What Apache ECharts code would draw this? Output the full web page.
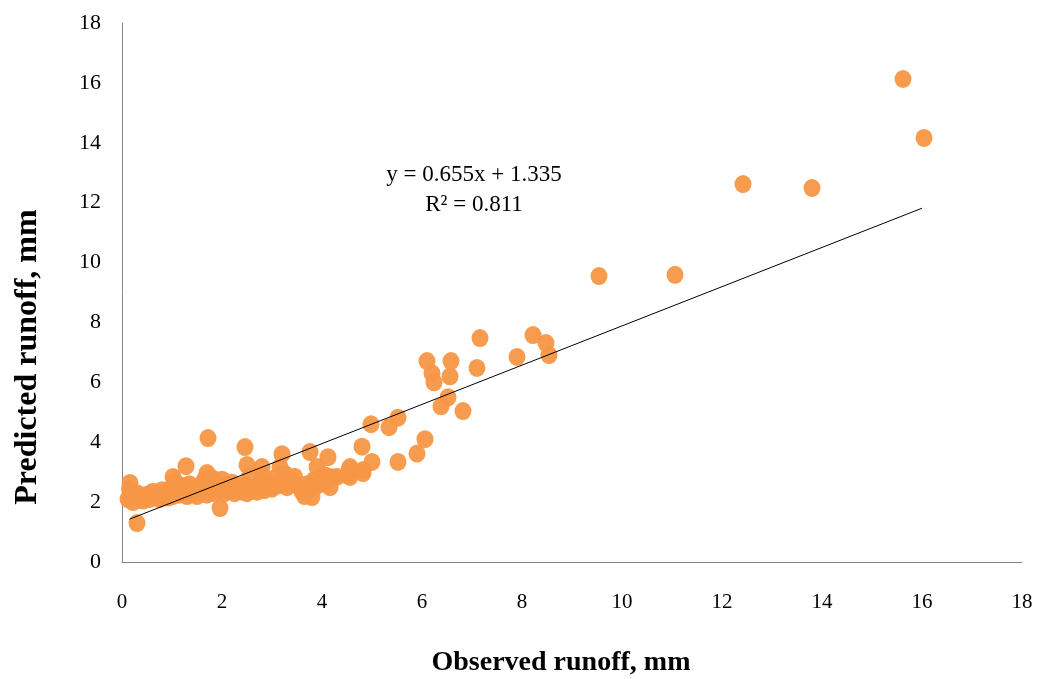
<!DOCTYPE html>
<html>
<head>
<meta charset="utf-8">
<script src="https://cdn.jsdelivr.net/npm/echarts@6/dist/echarts.min.js"></script>
<style>html,body{margin:0;padding:0;background:#fff}#c{width:1041px;height:679px}</style>
</head>
<body>
<div id="c"></div>
<script>
const xTicks = [0, 2, 4, 6, 8, 10, 12, 14, 16, 18];
const yTicks = [0, 2, 4, 6, 8, 10, 12, 14, 16, 18];
const observed = [
  0.12,0.15,0.18,0.22,0.3,0.35,0.42,0.5,0.55,0.62,0.7,0.75,0.8,0.88,0.92,1.0,1.02,1.05,1.1,1.15,
  1.2,1.25,1.3,1.35,1.4,1.45,1.5,1.55,1.6,1.65,1.7,1.75,1.8,1.85,1.9,1.95,2.0,2.05,2.1,2.15,
  2.2,2.25,2.3,2.4,2.45,2.5,2.55,2.6,2.7,2.75,2.8,2.85,2.9,2.95,3.0,3.05,3.1,3.2,3.25,3.3,
  3.4,3.45,3.55,3.6,3.65,3.7,3.75,3.85,3.9,4.0,4.05,4.1,4.2,4.3,4.5,4.55,
  0.16,0.3,1.02,1.28,1.72,1.7,1.96,2.46,2.5,2.8,3.16,3.2,3.76,4.12,3.9,4.16,3.96,3.76,4.16,4.56,
  3.8,4.56,4.82,4.82,4.8,5.0,5.52,5.9,6.06,4.98,5.34,5.52,
  6.1,6.58,6.2,6.24,6.56,6.52,6.38,6.82,7.1,7.16,7.9,8.22,8.48,8.54,9.54,11.06,12.42,13.8,15.62,16.04
];
const predicted = [
  2.1,2.45,2.2,2.0,2.3,2.15,2.05,2.25,2.1,2.35,2.2,2.1,2.4,2.3,2.15,2.5,2.2,2.7,2.35,2.25,
  2.55,2.4,2.2,2.6,2.3,2.45,2.2,2.55,2.35,2.75,2.25,2.5,2.8,2.3,2.6,2.45,2.75,2.3,2.55,2.4,
  2.65,2.3,2.5,2.35,2.6,2.3,2.85,2.45,2.35,2.6,2.9,2.4,2.7,2.5,2.45,2.8,2.55,2.6,2.95,2.5,
  2.7,2.85,2.5,2.35,2.2,2.6,2.45,2.75,2.55,2.65,2.9,2.7,2.8,2.85,2.9,3.1,
  2.64,1.3,2.84,3.2,4.14,2.97,1.8,3.84,3.24,3.17,3.17,3.6,3.67,3.5,3.17,2.84,2.64,2.5,2.5,2.84,
  2.17,3.17,3.07,2.97,3.85,3.34,3.34,3.62,4.1,4.6,4.5,4.82,
  6.71,6.71,6.3,6.0,6.2,5.5,5.2,5.04,6.48,7.48,6.85,7.58,7.31,6.91,9.55,9.59,12.62,12.49,16.13,14.16
];
const trendX = [0.15, 16];
const trendY = [1.43, 11.815];
const equationLines = ['y = 0.655x + 1.335', 'R\u00b2 = 0.811'];

const points = observed.map((x, i) => [x, predicted[i]]);
const trend = trendX.map((x, i) => [x, trendY[i]]);

const chart = echarts.init(document.getElementById('c'));
const serif = '"Liberation Serif", "Times New Roman", serif';
chart.setOption({
  animation: false,
  backgroundColor: '#fff',
  grid: { left: 122, right: 19, top: 23, bottom: 117 },
  xAxis: {
    type: 'value', min: xTicks[0], max: xTicks[xTicks.length - 1], interval: 2,
    axisLine: { show: true, lineStyle: { color: '#868686', width: 1 } },
    axisTick: { show: false },
    splitLine: { show: false },
    axisLabel: { color: '#000', fontFamily: serif, fontSize: 21, margin: 30 }
  },
  yAxis: {
    type: 'value', min: yTicks[0], max: yTicks[yTicks.length - 1], interval: 2,
    axisLine: { show: true, lineStyle: { color: '#868686', width: 1 } },
    axisTick: { show: false },
    splitLine: { show: false },
    axisLabel: { color: '#000', fontFamily: serif, fontSize: 22, margin: 21 }
  },
  series: [
    {
      type: 'scatter', data: points, symbol: 'circle', symbolSize: [17, 18],
      itemStyle: { color: '#F79646', opacity: 0.95 }, z: 2
    },
    {
      type: 'line', data: trend, symbol: 'none', showSymbol: false,
      lineStyle: { color: '#000', width: 1 }, z: 3
    }
  ],
  graphic: [
    { type: 'text', x: 474, y: 175, style: { text: equationLines[0], font: '23px ' + serif, fill: '#000', align: 'center', verticalAlign: 'middle' } },
    { type: 'text', x: 474, y: 205, style: { text: equationLines[1], font: '23px ' + serif, fill: '#000', align: 'center', verticalAlign: 'middle' } },
    { type: 'text', x: 561, y: 663, style: { text: 'Observed runoff, mm', font: 'bold 28px ' + serif, fill: '#000', align: 'center', verticalAlign: 'middle' } },
    { type: 'text', x: 28, y: 357, rotation: Math.PI / 2, style: { text: 'Predicted runoff, mm', font: 'bold 32px ' + serif, fill: '#000', align: 'center', verticalAlign: 'middle' } }
  ]
});
</script>
</body>
</html>
